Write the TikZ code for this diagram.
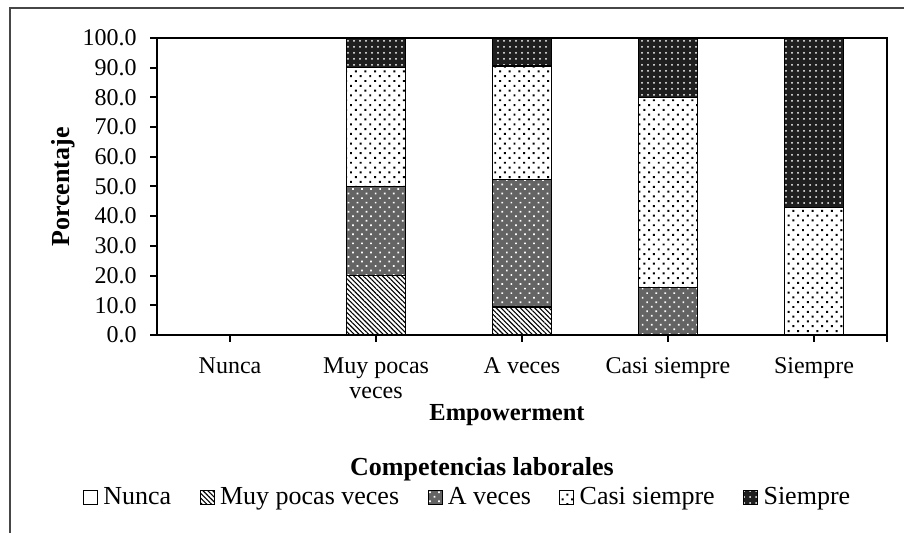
\documentclass[tikz,border=0pt]{standalone}
\usepackage{fontspec}
\setmainfont{Liberation Serif}
\usetikzlibrary{patterns.meta,positioning}
\definecolor{fgrey}{RGB}{70,70,70}
\definecolor{dgrey}{RGB}{100,100,100}
\tikzset{
  frame/.style={line width=1pt,fgrey},
  axis/.style={line width=1pt,black},
  seg/.style={draw=black,line width=0.75pt},
  pmuy/.style={pattern={Lines[angle=-45,distance=1.7pt,line width=0.55pt]},pattern color=black},
  pave/.style={preaction={fill=dgrey},pattern={Dots[angle=45,distance=3.2pt,radius=0.6pt]},pattern color=white},
  pcasi/.style={pattern={Dots[angle=45,distance=3.4pt,radius=0.7pt]},pattern color=black},
  psiem/.style={preaction={fill=black!88},pattern={Dots[distance=3pt,radius=0.5pt]},pattern color=white},
  ticklab/.style={font=\fontsize{12}{12.5}\selectfont,inner sep=0pt,anchor=east},
  catlab/.style={font=\fontsize{12}{12.5}\selectfont,inner sep=0pt,align=center,anchor=north},
  title/.style={font=\fontsize{13}{14}\selectfont\bfseries,inner sep=0pt,anchor=base},
  legbox/.style={draw=black,line width=0.5pt,minimum size=7pt,inner sep=0pt,anchor=south west},
  legtxt/.style={font=\fontsize{13}{14}\selectfont,inner sep=0pt,anchor=base west}
}

\begin{document}
\begin{tikzpicture}[x=0.5pt,y=0.5pt]
\useasboundingbox (0,0) rectangle (904,533);
\draw[frame] (10,0) -- (10,525) -- (904,525);
\begin{scope}[shift={(157,198)},y=1.485pt]
\path[seg,pmuy] (189.5,0) rectangle (248.5,20);
\path[seg,pave] (189.5,20) rectangle (248.5,50);
\path[seg,pcasi] (189.5,50) rectangle (248.5,90);
\path[seg,psiem] (189.5,90) rectangle (248.5,100);
\path[seg,pmuy] (335.5,0) rectangle (394.5,9.5);
\path[seg,pave] (335.5,9.5) rectangle (394.5,52.4);
\path[seg,pcasi] (335.5,52.4) rectangle (394.5,90.5);
\path[seg,psiem] (335.5,90.5) rectangle (394.5,100);
\path[seg,pave] (481.5,0) rectangle (540.5,16);
\path[seg,pcasi] (481.5,16) rectangle (540.5,80);
\path[seg,psiem] (481.5,80) rectangle (540.5,100);
\path[seg,pcasi] (627.5,0) rectangle (686.5,42.9);
\path[seg,psiem] (627.5,42.9) rectangle (686.5,100);
\draw[axis] (0,0) rectangle (730,100);
\foreach \v in {0,10,...,100}{
  \draw[axis] (-7,\v) -- (0,\v);
  \node[ticklab] (yt\v) at (-20,\v) {\v.0};
}
\foreach \c in {73,219,365,511,657,730}
  \draw[axis] (\c,0) -- (\c,-2.4);
\end{scope}
\node[catlab] (cnun) at (230,176) {Nunca};
\node[catlab] (cmuy) at (376,176) {Muy pocas\\veces};
\node[catlab] (cave) at (522,176) {A veces};
\node[catlab] (ccasi) at (668,176) {Casi siempre};
\node[catlab] (csiem) at (814,176) {Siempre};
\node[title,font=\fontsize{12.25}{14}\selectfont\bfseries] (xtitle) at (507,112) {Empowerment};
\node[title,rotate=90] (ytitle) at (70,346) {Porcentaje};
\node[title] (ltitle) at (482,57) {Competencias laborales};
\node[legbox] (lbnun) at (83,28) {};
\node[legtxt,right=2.5pt of lbnun.south east,anchor=base west] (ltnun) {Nunca};
\node[legbox,pmuy,right=14pt of ltnun.base east,anchor=south west] (lbmuy) {};
\node[legtxt,right=2.5pt of lbmuy.south east,anchor=base west] (ltmuy) {Muy pocas veces};
\node[legbox,pave,right=14pt of ltmuy.base east,anchor=south west] (lbave) {};
\node[legtxt,right=2.5pt of lbave.south east,anchor=base west] (ltave) {A veces};
\node[legbox,pcasi,right=14pt of ltave.base east,anchor=south west] (lbcasi) {};
\node[legtxt,right=2.5pt of lbcasi.south east,anchor=base west] (ltcasi) {Casi siempre};
\node[legbox,psiem,right=14pt of ltcasi.base east,anchor=south west] (lbsiem) {};
\node[legtxt,right=2.5pt of lbsiem.south east,anchor=base west] (ltsiem) {Siempre};
\end{tikzpicture}
\end{document}
